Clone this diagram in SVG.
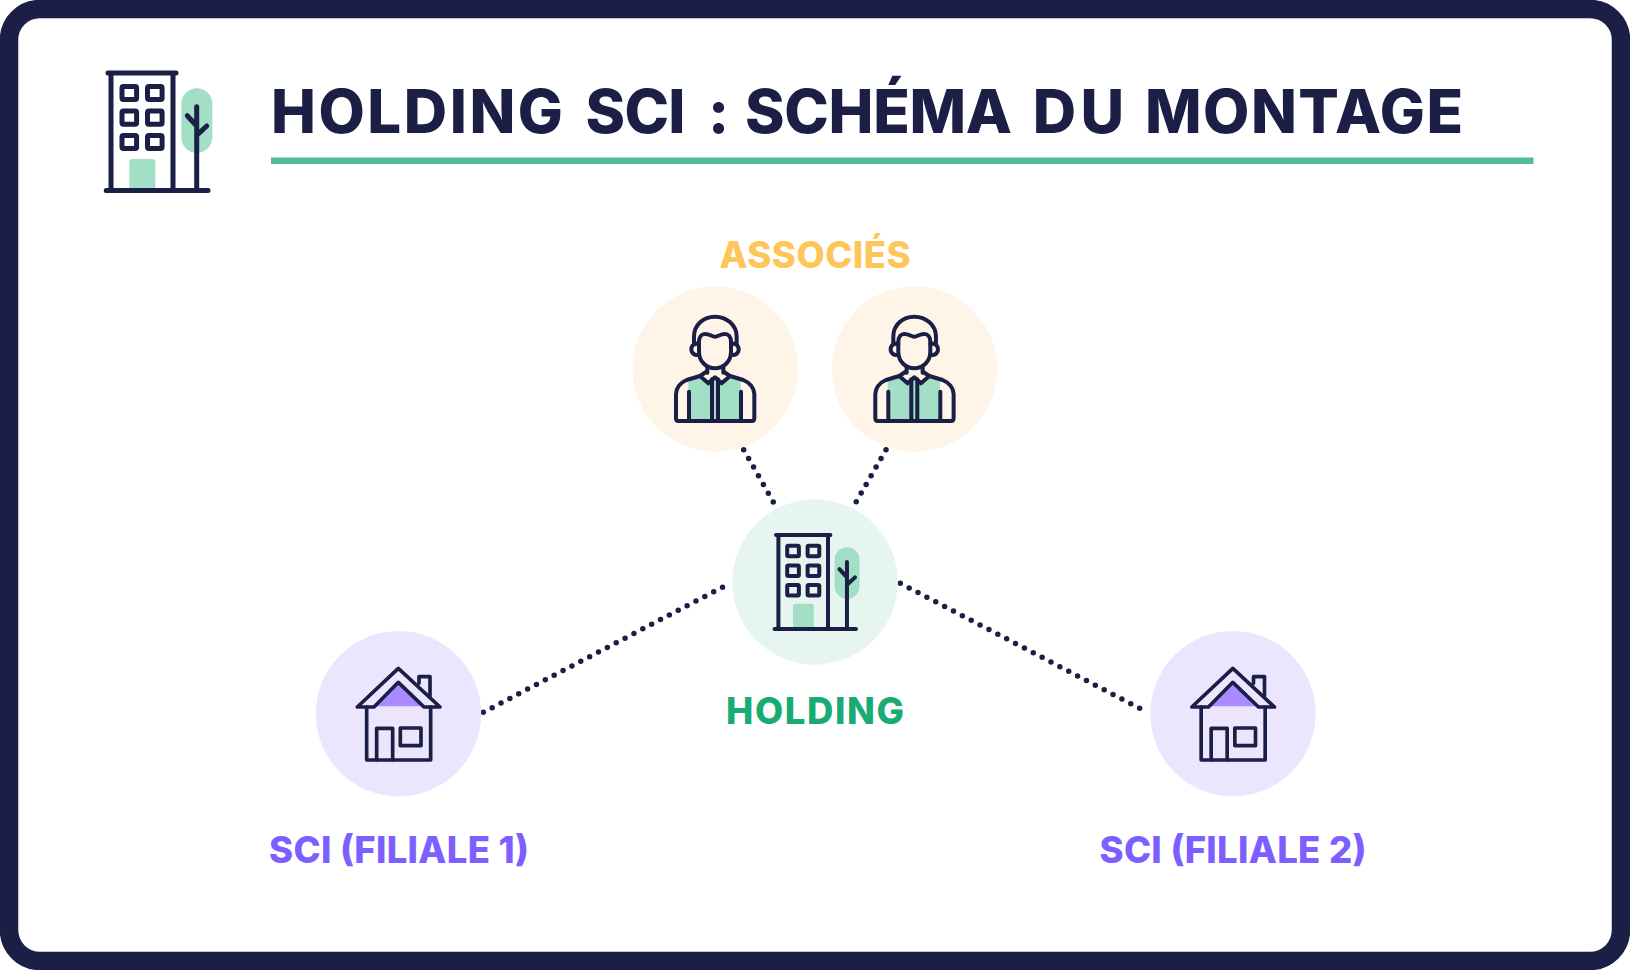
<svg xmlns="http://www.w3.org/2000/svg" width="1630" height="970" viewBox="0 0 1630 970">
<style>
text{font-family:"Inter","Liberation Sans",sans-serif;font-weight:800}
.lbl{font-size:36.5px;text-anchor:middle}
.ink{fill:none;stroke:#1b1e45;stroke-linecap:round;stroke-linejoin:round}
.dots{fill:none;stroke:#1b1e45;stroke-width:5.5;stroke-linecap:round;stroke-dasharray:0 10}
</style>
<defs>
<g id="building">
<rect x="181.3" y="88.3" width="31" height="64.4" rx="15.5" fill="#a3dec6"/>
<path d="M129.3 188V162a3 3 0 0 1 3-3h20a3 3 0 0 1 3 3v26z" fill="#a3dec6"/>
<g class="ink" stroke-width="5">
<path d="M108 73H176M111 73V190M173 73V190M106.2 190.6H208M196.7 106.7V190M187.3 115.7L196.7 126M206.7 126L196.7 135.3"/>
<rect x="122" y="86.4" width="14.6" height="13.2" rx="1.5"/><rect x="147.5" y="86.4" width="14.6" height="13.2" rx="1.5"/>
<rect x="122" y="111" width="14.6" height="13.2" rx="1.5"/><rect x="147.5" y="111" width="14.6" height="13.2" rx="1.5"/>
<rect x="122" y="135.4" width="14.6" height="13.2" rx="1.5"/><rect x="147.5" y="135.4" width="14.6" height="13.2" rx="1.5"/>
</g>
</g>
<g id="person" transform="translate(620 220) scale(.33333)">
<path d="M205 482L240 468L265 490L285 472L305 490L330 468L362 482V600H205Z" fill="#a3dec6"/>
<g class="ink" stroke-width="12">
<path d="M222 372V350C222 315 250 290 285 290C320 290 350 315 350 350V372"/>
<path d="M237 365V395C237 425 260 445 285 445C310 445 333 425 333 395V365C333 350 325 342 315 342C300 342 295 350 285 350C275 350 270 342 255 342C245 342 237 350 237 365Z"/>
<path d="M237 372C225 368 214 376 214 388C214 400 225 408 237 404M333 372C345 368 356 376 356 388C356 400 345 408 333 404"/>
<path d="M262 440V458M310 440V458"/>
<path d="M258 456L240 468L265 490L285 472L305 490L330 468L312 456"/>
<path d="M240 468L200 480C180 488 168 505 168 522V595Q168 603 175 603H396Q403 603 403 595V522C403 505 390 488 370 480L330 468"/>
<path d="M207 515V603M363 515V603M276 478V603M294 478V603"/>
</g>
</g>
<g id="house" transform="translate(250 620) scale(.33333)">
<path d="M378 259L445 192L515 259Z" fill="#a78bff"/>
<g class="ink" stroke-width="11">
<path d="M372 261H322L445 145L570 261H522L445 187Z"/>
<path d="M507 190V170H540V228"/>
<path d="M350 261V420H542V261"/>
<path d="M380 420V325H428V420"/>
<rect x="451" y="324" width="62" height="53"/>
</g>
</g>
</defs>
<rect width="1630" height="970" fill="#fff"/>
<rect id="frame" x="9" y="9" width="1612" height="952" rx="31" fill="#fff" stroke="#1b1e45" stroke-width="18.5"/>
<g id="title-block">
<use href="#building"/>
<text y="133" font-size="60" fill="#1b1e45"><tspan x="271" textLength="292">HOLDING</tspan> <tspan x="585.5" textLength="100">SCI</tspan> <tspan x="708" textLength="15">:</tspan> <tspan x="745" textLength="267">SCHÉMA</tspan> <tspan x="1032.7" textLength="91.5">DU</tspan> <tspan x="1145" textLength="318">MONTAGE</tspan></text>
<rect x="271" y="157.5" width="1262.5" height="6.5" fill="#52bd95"/>
</g>
<g id="connectors">
<path class="dots" d="M743.7 449.7L773.7 502.7"/>
<path class="dots" d="M886 449.7L855.7 502.7"/>
<path class="dots" d="M483.3 712.3L723.2 586.8"/>
<path class="dots" d="M900.3 583.3L1140.2 708.6"/>
</g>
<g id="associe-1">
<circle cx="715.2" cy="369" r="82.7" fill="#fef5e8"/>
<use href="#person"/>
</g>
<g id="associe-2">
<circle cx="914.5" cy="369" r="82.7" fill="#fef5e8"/>
<use href="#person" x="199.3"/>
</g>
<text id="label-associes" class="lbl" x="815" y="268" fill="#fec659" textLength="191">ASSOCIÉS</text>
<g id="holding">
<circle cx="815" cy="582" r="82.7" fill="#e6f5ef"/>
<use href="#building" transform="translate(776 535) scale(.8) translate(-108 -73)"/>
<text class="lbl" x="815" y="724" fill="#18ab73" textLength="178">HOLDING</text>
</g>
<g id="sci-1">
<circle cx="398.5" cy="713.7" r="82.7" fill="#ebe6fe"/>
<use href="#house"/>
<text class="lbl" x="399" y="862.5" fill="#7d5fff" textLength="260">SCI (FILIALE 1)</text>
</g>
<g id="sci-2">
<circle cx="1233" cy="713.7" r="82.7" fill="#ebe6fe"/>
<use href="#house" x="834.5"/>
<text class="lbl" x="1233" y="862.5" fill="#7d5fff" textLength="267">SCI (FILIALE 2)</text>
</g>
</svg>
